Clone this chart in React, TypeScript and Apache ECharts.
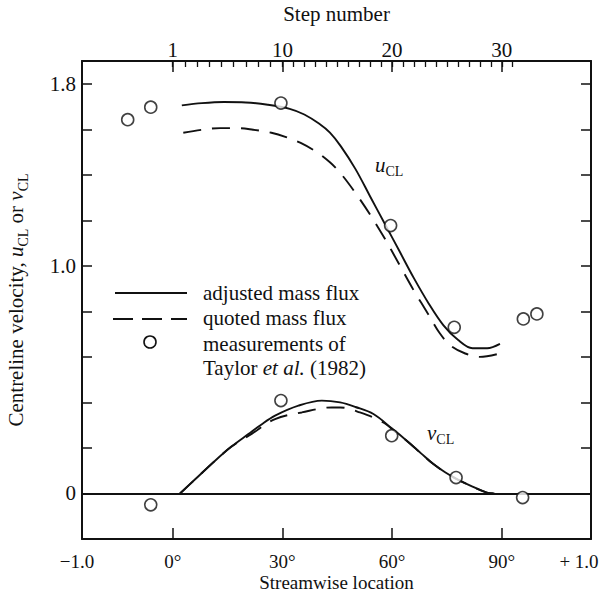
import React, { useEffect, useRef } from 'react';
import * as echarts from 'echarts';

// x axis is expressed in "degrees of bend"; the straight sections are drawn beyond 0° and 90°
const xMin = -24.8;
const xMax = 114.4;
const yMin = -0.2;
const yMax = 1.9;

// bottom axis labels
const bottomLabelValues = [xMin, 0, 30, 60, 90, xMax];
const bottomLabelTexts = ['{l|\u22121.0}', '0°', '30°', '60°', '90°', '{r|+ 1.0}'];
const bottomTickValues = [0, 30, 60, 90];

// top axis (step number)
const stepLabelTexts = ['1', '10', '20', '30'];
const stepLabelDeg = [0, 30, 60, 90];
const stepNumbers = [1, 2, 3, 4, 5, 6, 7, 8, 9, 10, 11, 12, 13, 14, 15, 16, 17, 18, 19, 20, 21, 22, 23, 24, 25, 26, 27, 28, 29, 30, 31];

// y axis
const yTickValues = [0, 0.2, 0.4, 0.6, 0.8, 1.0, 1.2, 1.4, 1.6, 1.8];
const yLabelValues = [0, 1.0, 1.8];

// u_CL, adjusted mass flux (solid)
const uAdjX = [2.5, 8, 14, 20, 26, 32, 36, 40, 43, 46, 50, 54, 58, 62, 66, 70, 74, 78, 82, 86, 89.5];
const uAdjY = [1.705, 1.715, 1.72, 1.718, 1.708, 1.69, 1.665, 1.625, 1.585, 1.525, 1.425, 1.305, 1.185, 1.065, 0.945, 0.835, 0.74, 0.675, 0.638, 0.638, 0.657];

// u_CL, quoted mass flux (dashed)
const uQuotX = [2.9, 8, 13, 18, 22, 27, 31, 35, 39.4, 43, 46, 50, 54, 58, 62, 66, 70, 73, 76, 80, 84, 89];
const uQuotY = [1.585, 1.598, 1.605, 1.605, 1.598, 1.585, 1.566, 1.54, 1.5, 1.455, 1.405, 1.32, 1.225, 1.12, 1.005, 0.89, 0.785, 0.705, 0.65, 0.615, 0.6, 0.613];

// v_CL, adjusted mass flux (solid)
const vAdjX = [2, 6, 11.6, 16, 20.7, 24, 28, 34.4, 40.8, 45.8, 50, 54.9, 60, 64, 68, 71.3, 74.5, 77.7, 82, 85.9, 88];
const vAdjY = [0, 0.06, 0.144, 0.205, 0.261, 0.3, 0.342, 0.386, 0.408, 0.4, 0.38, 0.349, 0.285, 0.232, 0.175, 0.129, 0.093, 0.063, 0.03, 0.004, 0];

// v_CL, quoted mass flux (dashed)
const vQuotX = [2, 6, 11.6, 16, 21.6, 28, 35.3, 43.5, 45.8, 51.2, 57.6, 62, 64, 68, 71.3, 74.5, 77.7, 82, 85.9, 88];
const vQuotY = [0, 0.06, 0.144, 0.205, 0.262, 0.327, 0.356, 0.378, 0.378, 0.356, 0.312, 0.255, 0.232, 0.175, 0.129, 0.093, 0.063, 0.03, 0.004, 0];

// measurements of Taylor et al. (1982)
const uMeasX = [-12.3, -6.0, 29.6, 59.6, 77.0, 95.9, 99.6];
const uMeasY = [1.642, 1.697, 1.715, 1.177, 0.73, 0.767, 0.789];
const vMeasX = [-6.0, 29.6, 59.9, 77.5, 95.7];
const vMeasY = [-0.05, 0.408, 0.254, 0.07, -0.018];

const FONT = "'Liberation Serif', 'Times New Roman', Times, serif";
const INK = '#111';
const FS = 21;
const FS_BOTTOM = 19;

function stepToDeg(s: number): number {
  return s <= 10 ? ((s - 1) * 30) / 9 : 30 + (s - 10) * 3;
}

function zip(xs: number[], ys: number[]) {
  return xs.map((x, i) => [x, ys[i]]);
}

const subRich = {
  n: { fontFamily: FONT, fontSize: FS, color: INK, lineHeight: 28 },
  i: { fontFamily: FONT, fontSize: FS, fontStyle: 'italic', color: INK, lineHeight: 28 },
  s: { fontFamily: FONT, fontSize: 14, color: INK, lineHeight: 14, verticalAlign: 'bottom' },
};

export default function App() {
  const ref = useRef<HTMLDivElement>(null);
  useEffect(() => {
    const chart = echarts.init(ref.current as HTMLDivElement, null, { renderer: 'svg' });
    const lineBase = { type: 'line', smooth: 0.35, symbol: 'none', xAxisIndex: 0, yAxisIndex: 0, z: 3 };
    const solid = { color: INK, width: 1.9, type: 'solid' };
    const dashed = { color: INK, width: 1.9, type: [18, 11] };
    const axisLine = { show: true, onZero: false, lineStyle: { color: INK, width: 2 } };
    const labelStyle = { fontFamily: FONT, fontSize: FS, color: INK };
    const bottomStyle = { fontFamily: FONT, fontSize: FS_BOTTOM, color: INK };
    const option: any = {
      animation: false,
      backgroundColor: '#ffffff',
      grid: { left: 82, right: 22, top: 61, bottom: 55, containLabel: false, outerBoundsMode: 'none' },
      xAxis: [
        {
          type: 'value', position: 'bottom', min: xMin, max: xMax,
          axisLine,
          axisTick: { show: true, inside: true, length: 11, customValues: bottomTickValues, lineStyle: { color: INK, width: 1.5 } },
          axisLabel: {
            ...bottomStyle, margin: 13, showMinLabel: true, showMaxLabel: true,
            customValues: bottomLabelValues,
            formatter: (v: number) => {
              const k = bottomLabelValues.findIndex((b) => Math.abs(b - v) < 1e-6);
              return k >= 0 ? bottomLabelTexts[k] : '';
            },
            rich: {
              l: { ...bottomStyle, padding: [0, 10, 0, 0] },
              r: { ...bottomStyle, padding: [0, 24, 0, 0] },
            },
          },
          splitLine: { show: false },
          name: 'Streamwise location', nameLocation: 'middle', nameGap: 34, nameMoveOverlap: false,
          nameTextStyle: { ...bottomStyle },
        },
        {
          type: 'value', position: 'top', min: xMin, max: xMax,
          axisLine,
          axisTick: { show: true, inside: true, length: 11, customValues: stepLabelDeg, lineStyle: { color: INK, width: 1.5 } },
          axisLabel: {
            ...labelStyle, margin: 1,
            customValues: stepLabelDeg,
            formatter: (v: number) => {
              const k = stepLabelDeg.findIndex((b) => Math.abs(b - v) < 1e-6);
              return k >= 0 ? stepLabelTexts[k] : '';
            },
          },
          splitLine: { show: false },
          name: 'Step number', nameLocation: 'middle', nameGap: 37, nameMoveOverlap: false,
          nameTextStyle: { ...labelStyle },
        },
        {
          type: 'value', position: 'top', min: xMin, max: xMax,
          axisLine: { show: false, onZero: false },
          axisTick: { show: true, inside: true, length: 6, customValues: stepNumbers.map(stepToDeg), lineStyle: { color: INK, width: 1.3 } },
          axisLabel: { show: false },
          splitLine: { show: false },
        },
      ],
      yAxis: [
        {
          type: 'value', position: 'left', min: yMin, max: yMax,
          axisLine,
          axisTick: { show: true, inside: true, length: 10, customValues: yTickValues, lineStyle: { color: INK, width: 1.5 } },
          axisLabel: {
            ...labelStyle, margin: 6,
            customValues: yLabelValues,
            formatter: (v: number) => (Math.abs(v) < 1e-6 ? '0' : v.toFixed(1)),
          },
          splitLine: { show: false },
          name: '{n|Centreline velocity, }{i|u}{s|CL}{n| or }{i|v}{s|CL}',
          nameLocation: 'middle', nameRotate: 90, nameGap: 52, nameMoveOverlap: false,
          nameTextStyle: { ...labelStyle, rich: subRich },
        },
        {
          type: 'value', position: 'right', min: yMin, max: yMax,
          axisLine,
          axisTick: { show: true, inside: true, length: 10, customValues: yTickValues, lineStyle: { color: INK, width: 1.5 } },
          axisLabel: { show: false },
          splitLine: { show: false },
        },
      ],
      series: [
        { ...lineBase, name: 'u adjusted', data: zip(uAdjX, uAdjY), lineStyle: solid },
        { ...lineBase, name: 'u quoted', data: zip(uQuotX, uQuotY), lineStyle: dashed },
        { ...lineBase, name: 'v quoted', data: zip(vQuotX, vQuotY), lineStyle: dashed },
        {
          ...lineBase, name: 'v adjusted', data: zip(vAdjX, vAdjY), lineStyle: solid,
          markLine: {
            silent: true, symbol: 'none', label: { show: false },
            lineStyle: { color: INK, width: 2, type: 'solid' },
            data: [{ yAxis: 0 }],
          },
        },
        {
          type: 'scatter', name: 'u measured', data: zip(uMeasX, uMeasY), symbol: 'circle', symbolSize: 12, z: 5,
          itemStyle: { color: '#ffffff', borderColor: INK, borderWidth: 1.6 },
        },
        {
          type: 'scatter', name: 'v measured', data: zip(vMeasX, vMeasY), symbol: 'circle', symbolSize: 12, z: 5,
          itemStyle: { color: '#ffffff', borderColor: INK, borderWidth: 1.6 },
        },
      ],
      graphic: [
        // legend
        { type: 'line', shape: { x1: 115, y1: 293, x2: 187, y2: 293 }, style: { stroke: INK, lineWidth: 1.9 }, z: 10 },
        { type: 'line', shape: { x1: 113, y1: 319, x2: 187, y2: 319 }, style: { stroke: INK, lineWidth: 1.9, lineDash: [20, 9] }, z: 10 },
        { type: 'circle', shape: { cx: 150, cy: 342, r: 6 }, style: { fill: '#fff', stroke: INK, lineWidth: 1.6 }, z: 10 },
        { type: 'text', x: 203, y: 293, style: { text: 'adjusted mass flux', font: `${FS}px ${FONT}`, fill: INK, verticalAlign: 'middle' }, z: 10 },
        { type: 'text', x: 203, y: 318, style: { text: 'quoted mass flux', font: `${FS}px ${FONT}`, fill: INK, verticalAlign: 'middle' }, z: 10 },
        { type: 'text', x: 203, y: 344, style: { text: 'measurements of', font: `${FS}px ${FONT}`, fill: INK, verticalAlign: 'middle' }, z: 10 },
        {
          type: 'text', x: 203, y: 368, z: 10,
          style: {
            text: '{n|Taylor }{i|et al.}{n| (1982)}', verticalAlign: 'middle',
            rich: { n: { fontFamily: FONT, fontSize: FS, fill: INK }, i: { fontFamily: FONT, fontSize: FS, fontStyle: 'italic', fill: INK } },
          },
        },
        // curve labels
        {
          type: 'text', x: 375, y: 165, z: 10,
          style: {
            text: '{i|u}{s|CL}', verticalAlign: 'middle',
            rich: { i: { fontFamily: FONT, fontSize: FS, fontStyle: 'italic', fill: INK, lineHeight: 26 }, s: { fontFamily: FONT, fontSize: 14, fill: INK, lineHeight: 14, verticalAlign: 'bottom' } },
          },
        },
        {
          type: 'text', x: 427, y: 433, z: 10,
          style: {
            text: '{i|v}{s|CL}', verticalAlign: 'middle',
            rich: { i: { fontFamily: FONT, fontSize: FS, fontStyle: 'italic', fill: INK, lineHeight: 26 }, s: { fontFamily: FONT, fontSize: 14, fill: INK, lineHeight: 14, verticalAlign: 'bottom' } },
          },
        },
      ],
    };
    chart.setOption(option);
    return () => chart.dispose();
  }, []);
  return <div ref={ref} style={{ position: 'fixed', left: 0, top: 0, width: 613, height: 594, background: '#fff' }} />;
}
